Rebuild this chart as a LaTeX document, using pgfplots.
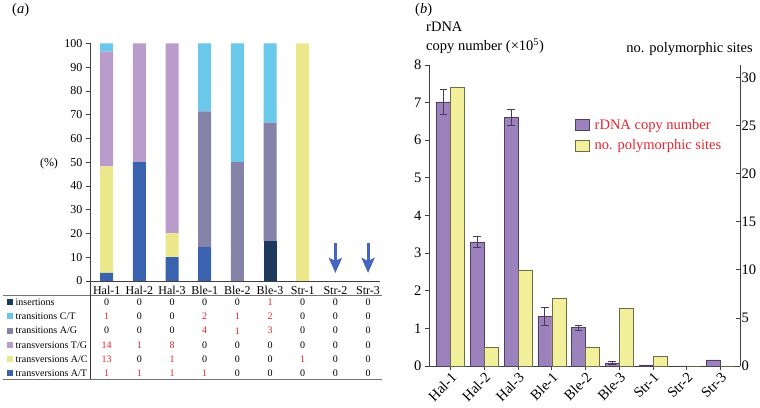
\documentclass[border=0pt]{standalone}
\usepackage{fontspec}
\setmainfont{Liberation Serif}
\usepackage{pgfplots}
\pgfplotsset{compat=1.18}
\usetikzlibrary{arrows.meta}
\definecolor{cins}{HTML}{1D3A5C}
\definecolor{cct}{HTML}{6AC8EA}
\definecolor{cag}{HTML}{8583A8}
\definecolor{ctg}{HTML}{B99CCB}
\definecolor{cac}{HTML}{EBE88C}
\definecolor{cat}{HTML}{3A62AE}
\definecolor{carrow}{HTML}{4565C0}
\definecolor{cpur}{HTML}{9C82BC}
\definecolor{cpurd}{HTML}{4D3F5E}
\definecolor{cyel}{HTML}{F3F09C}
\definecolor{cyeld}{HTML}{6D6B4A}
\definecolor{cred}{HTML}{E8252E}
\definecolor{cerr}{HTML}{4A3A5A}
\newcommand\fa{\fontsize{12}{14}\selectfont}
\newcommand\ft{\fontsize{10}{12}\selectfont}
\newcommand\fb{\fontsize{14.5}{17}\selectfont}
\newcommand\slh{/}
\pgfplotsset{sqleg/.style={legend image code/.code={\draw[##1] (0pt,-5.5pt) rectangle (14pt,5.5pt);}}}
\begin{document}
\begin{tikzpicture}[x=1pt,y=1pt]
\useasboundingbox (0,0) rectangle (760,407);
% ---------------- panel (a)
\begin{axis}[
  at={(90pt,126pt)}, anchor=south west,
  scale only axis, width=290pt, height=237.5pt,
  xmin=-0.511, xmax=8.366, ymin=0, ymax=100,
  axis x line*=bottom, axis y line*=left,
  axis line style={color=black!75, line width=0.8pt, -},
  ybar stacked, bar width=13pt,
  xtick={0,...,8},
  xticklabels={Hal-1,Hal-2,Hal-3,Ble-1,Ble-2,Ble-3,Str-1,Str-2,Str-3},
  x tick style={draw=none},
  xticklabel style={inner sep=1pt},
  ytick={0,10,...,100},
  y tick style={color=black!75, line width=0.8pt},
  tick align=outside, major tick length=4pt,
  tick label style={font=\fa},
  /pgf/number format/assume math mode=true,
  clip=false,
]
\addplot[fill=cins, draw=none] coordinates {(0,0) (1,0) (2,0) (3,0) (4,0) (5,16.67) (6,0) (7,0) (8,0)};
\addplot[fill=cat, draw=none] coordinates {(0,3.45) (1,50) (2,10) (3,14.29) (4,0) (5,0) (6,0) (7,0) (8,0)};
\addplot[fill=cac, draw=none] coordinates {(0,44.83) (1,0) (2,10) (3,0) (4,0) (5,0) (6,100) (7,0) (8,0)};
\addplot[fill=ctg, draw=none] coordinates {(0,48.27) (1,50) (2,80) (3,0) (4,0) (5,0) (6,0) (7,0) (8,0)};
\addplot[fill=cag, draw=none] coordinates {(0,0) (1,0) (2,0) (3,57.14) (4,50) (5,50) (6,0) (7,0) (8,0)};
\addplot[fill=cct, draw=none] coordinates {(0,3.45) (1,0) (2,0) (3,28.57) (4,50) (5,33.33) (6,0) (7,0) (8,0)};
\end{axis}
\begin{axis}[
  at={(90pt,126pt)}, anchor=south west,
  scale only axis, width=290pt, height=237.5pt,
  xmin=-0.511, xmax=8.366, ymin=0, ymax=100,
  hide axis, clip=false,
]
\addplot[mark=none, draw=carrow, line width=3pt, quiver={u=0,v=-12.6},
  -{Stealth[width=13pt,length=15pt,inset=3pt]}] coordinates {(7,16) (8,16)};
\end{axis}
% table
\draw[black!55, line width=0.8pt] (3,112) -- (382,112);
\draw[black!55, line width=0.8pt] (3,28) -- (382,28);
\draw[black!80, line width=0.8pt] (90,126) -- (90,28);
\foreach \lab/\col [count=\k from 0] in {insertions/cins, transitions C\slh T/cct, transitions A\slh G/cag, transversions T\slh G/ctg, transversions A\slh C/cac, transversions A\slh T/cat}{
  \fill[\col] (7,{407-302.3-14.2*\k-3}) rectangle (13,{407-302.3-14.2*\k+3});
  \node[anchor=west, font=\ft, inner sep=0pt] at (15.5,{407-302.3-14.2*\k}) {\lab};
}
\foreach \rw [count=\k from 0] in {{0,0,0,0,0,1,0,0,0},{1,0,0,2,1,2,0,0,0},{0,0,0,4,1,3,0,0,0},{14,1,8,0,0,0,0,0,0},{13,0,1,0,0,0,1,0,0},{1,1,1,1,0,0,0,0,0}}{
  \foreach \v [count=\i from 0] in \rw {
    \ifnum\v=0 \def\tc{black}\else\def\tc{cred}\fi
    \node[font=\ft, text=\tc, inner sep=0pt] at ({106.7+32.67*\i},{407-302.3-14.2*\k}) {\v};
  }
}
\node[anchor=west, font=\fb, inner sep=0pt] at (12,397) {(\textit{a})};
\node[font=\fa, inner sep=0pt] at (49,243) {(\%)};
% ---------------- panel (b)
\begin{axis}[
  at={(429pt,41pt)}, anchor=south west,
  scale only axis, width=311pt, height=301pt,
  xmin=-0.637, xmax=8.578, ymin=0, ymax=8,
  axis x line*=bottom, axis y line*=left,
  axis line style={color=black!75, line width=0.8pt, -},
  tick style={color=black!75, line width=0.8pt},
  xtick={0,...,8},
  xticklabels={Hal-1,Hal-2,Hal-3,Ble-1,Ble-2,Ble-3,Str-1,Str-2,Str-3},
  xticklabel style={rotate=45, anchor=north east, inner sep=1pt},
  ytick={0,...,8},
  tick align=outside, major tick length=4pt,
  tick label style={font=\fb},
  /pgf/number format/assume math mode=true,
  clip=false,
]
\addplot[ybar, bar width=14pt, bar shift=-7pt, fill=cpur, draw=cpurd, line width=0.5pt]
  coordinates {(0,7.02) (1,3.30) (2,6.60) (3,1.31) (4,1.02) (5,0.08) (6,0.03) (7,0.005) (8,0.16)};
% error bars, centred on the purple bars (offset 7pt = 0.2074 units)
\addplot[draw=none, mark=none,
  error bars/.cd, y dir=both, y explicit,
  error bar style={color=cerr, line width=0.6pt},
  error mark options={rotate=90, mark size=3.8pt, color=cerr, line width=0.6pt}]
  coordinates {(-0.2074,7.02) +- (0,0.34) (0.7926,3.30) +- (0,0.15) (1.7926,6.60) +- (0,0.21)
  (2.7926,1.31) +- (0,0.24) (3.7926,1.02) +- (0,0.06) (4.7926,0.08) +- (0,0.04)};
\end{axis}
\begin{axis}[
  at={(429pt,41pt)}, anchor=south west,
  scale only axis, width=311pt, height=301pt,
  xmin=-0.637, xmax=8.578, ymin=0, ymax=31.3,
  axis x line=none, axis y line*=right,
  axis line style={color=black!75, line width=0.8pt, -},
  tick style={color=black!75, line width=0.8pt},
  ytick={0,5,...,30},
  tick align=inside, major tick length=4pt,
  tick label style={font=\fb},
  yticklabel style={inner sep=1.5pt},
  /pgf/number format/assume math mode=true,
  legend style={at={(0.4695,0.826)}, anchor=north west, draw=none, fill=none,
    font=\fb, text=cred, row sep=6pt, inner sep=0pt,
    nodes={inner sep=1.5pt, inner xsep=5pt}},
  legend cell align=left,
  clip=false,
]
\addlegendimage{fill=cpur, draw=cpurd, line width=0.5pt, sqleg}
\addlegendentry{rDNA copy number}
\addplot[ybar, bar width=14pt, bar shift=7pt, fill=cyel, draw=cyeld, line width=0.5pt, sqleg]
  coordinates {(0,29) (1,2) (2,10) (3,7) (4,2) (5,6) (6,1) (7,0) (8,0)};
\addlegendentry{no. polymorphic sites}
\end{axis}
\node[anchor=west, font=\fb, inner sep=0pt] at (415,397) {(\textit{b})};
\node[anchor=west, font=\fb, inner sep=0pt] at (426,380) {rDNA};
\node[anchor=west, font=\fb, inner sep=0pt] at (426,361) {copy number (×10\textsuperscript{5})};
\node[anchor=east, font=\fb, inner sep=0pt] at (753,358) {no. polymorphic sites};
\end{tikzpicture}
\end{document}
